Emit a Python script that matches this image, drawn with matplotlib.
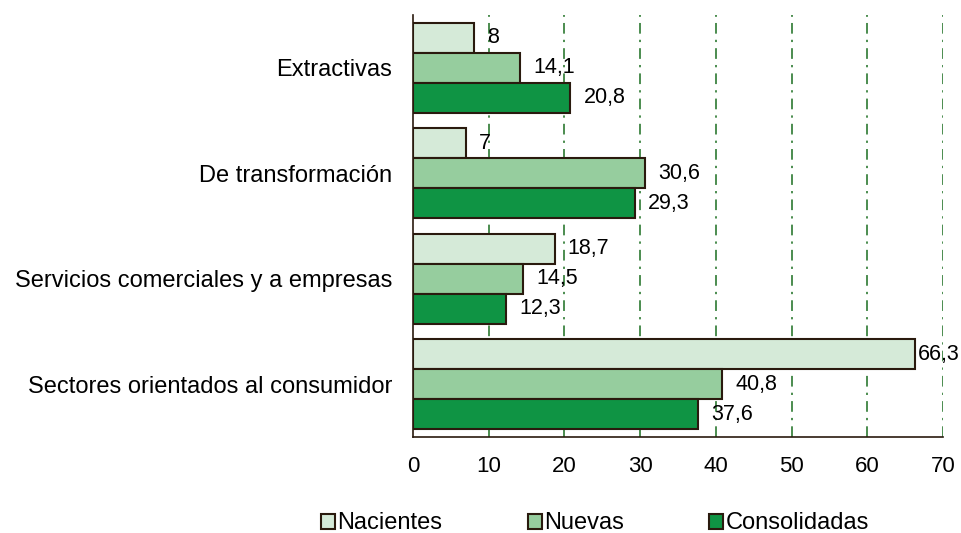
import matplotlib.pyplot as plt
import numpy as np

plt.rcParams["font.family"] = ["Liberation Sans", "DejaVu Sans"]

categories = ["Extractivas", "De transformación",
              "Servicios comerciales y a empresas",
              "Sectores orientados al consumidor"]
series = ["Nacientes", "Nuevas", "Consolidadas"]
nacientes = [8, 7, 18.7, 66.3]
nuevas = [14.1, 30.6, 14.5, 40.8]
consolidadas = [20.8, 29.3, 12.3, 37.6]
colors = ["#d5ead8", "#96cd9e", "#0f9444"]
EDGE = "#2a1a0e"

fig = plt.figure(figsize=(9.62, 5.33), dpi=100)
ax = fig.add_axes([0.4293, 0.1801, 0.5510, 0.7918])

y = np.arange(len(categories))
h = 0.285
for k, (vals, col) in enumerate(zip([nacientes, nuevas, consolidadas], colors)):
    pos = y + (k - 1) * h
    ax.barh(pos, vals, height=h, color=col, edgecolor=EDGE,
            linewidth=1.5, label=series[k], zorder=3)
    for v, p in zip(vals, pos):
        # label near the right edge gets pulled in, like the original
        off = 2 if v > 60 else 9.5
        ax.annotate(f"{v:g}".replace(".", ","), (v, p), xytext=(off, 0),
                    textcoords="offset points", ha="left", va="center",
                    fontsize=15.5, zorder=4)

ax.set_xlim(0, 70)
ax.set_ylim(len(categories) - 0.5, -0.5)
ax.set_xticks(range(0, 71, 10))
ax.set_yticks(y)
ax.set_yticklabels(categories)
ax.tick_params(axis="x", length=0, labelsize=16, pad=14)
ax.tick_params(axis="y", length=0, labelsize=17, pad=15)

for xv in range(10, 71, 10):
    ax.axvline(xv, color="#1a6e1f", linestyle=(0, (7, 4, 1.5, 4)),
               linewidth=1.1, zorder=1)

for s in ["top", "right"]:
    ax.spines[s].set_visible(False)
for s in ["left", "bottom"]:
    ax.spines[s].set_color(EDGE)
    ax.spines[s].set_linewidth(1.2)

fig.legend(loc="center", bbox_to_anchor=(0.6185, 0.018), ncol=3,
           frameon=False, fontsize=17, handlelength=0.6, handleheight=0.6,
           handletextpad=0.1, columnspacing=3.6)

fig.savefig("out.png", dpi=100, facecolor="white")
